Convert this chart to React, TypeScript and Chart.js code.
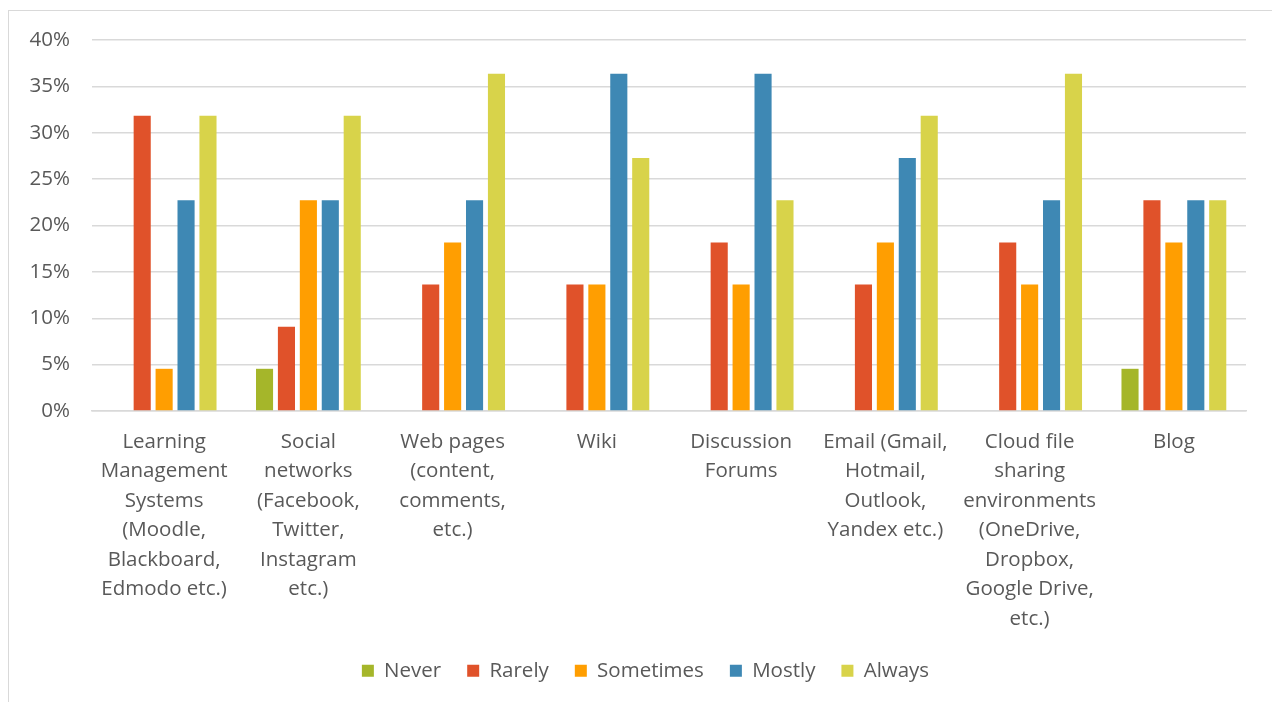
import React, { useEffect, useRef } from "react";
import { Chart, registerables } from "chart.js";

Chart.register(...registerables);

const categories: string[][] = [
  ["Learning", "Management", "Systems", "(Moodle,", "Blackboard,", "Edmodo etc.)"],
  ["Social", "networks", "(Facebook,", "Twitter,", "Instagram", "etc.)"],
  ["Web pages", "(content,", "comments,", "etc.)"],
  ["Wiki"],
  ["Discussion", "Forums"],
  ["Email (Gmail,", "Hotmail,", "Outlook,", "Yandex etc.)"],
  ["Cloud file", "sharing", "environments", "(OneDrive,", "Dropbox,", "Google Drive,", "etc.)"],
  ["Blog"],
];

const seriesNames = ["Never", "Rarely", "Sometimes", "Mostly", "Always"];
const never = [0, 4.55, 0, 0, 0, 0, 0, 4.55];
const rarely = [31.82, 9.09, 13.64, 13.64, 18.18, 13.64, 18.18, 22.73];
const sometimes = [4.55, 22.73, 18.18, 13.64, 13.64, 18.18, 13.64, 18.18];
const mostly = [22.73, 22.73, 22.73, 36.36, 36.36, 27.27, 22.73, 22.73];
const always = [31.82, 31.82, 36.36, 27.27, 22.73, 31.82, 36.36, 22.73];
const colors = ["#A5B62A", "#E0522A", "#FF9E01", "#3E88B4", "#D8D34A"];
const yTicks = [0, 5, 10, 15, 20, 25, 30, 35, 40];

const FONT = "'Open Sans', Lato, sans-serif";
const TEXT = "#595959";

const legendShift = {
  id: "legendShift",
  afterLayout(chart: any) {
    const lg = chart.legend;
    if (lg) {
      lg.left += 18;
      lg.right += 18;
    }
  },
};

export default function App() {
  const ref = useRef<HTMLCanvasElement | null>(null);
  useEffect(() => {
    if (!ref.current) return;
    const values = [never, rarely, sometimes, mostly, always];
    const chart = new Chart(ref.current, {
      type: "bar",
      data: {
        labels: categories,
        datasets: seriesNames.map((name, i) => ({
          label: name,
          data: values[i],
          backgroundColor: colors[i],
          borderWidth: 0,
          categoryPercentage: 0.76,
          barPercentage: 0.78,
        })),
      },
      plugins: [legendShift],
      options: {
        animation: false,
        responsive: false,
        maintainAspectRatio: false,
        layout: { padding: { top: 29, right: 26, bottom: 10, left: 0 } },
        plugins: {
          tooltip: { enabled: false },
          legend: {
            position: "bottom",
            labels: {
              font: { family: FONT, size: 20.5 },
              color: TEXT,
              boxWidth: 12,
              boxHeight: 12,
              padding: 26,
            },
          },
        },
        scales: {
          x: {
            grid: { display: false },
            border: { color: "#d9d9d9", width: 1.5 },
            ticks: {
              color: TEXT,
              font: { family: FONT, size: 20.5, lineHeight: 1.44 },
              maxRotation: 0,
              autoSkip: false,
              padding: 8,
            },
            afterFit: (scale: any) => {
              scale.height = 223.5;
            },
          },
          y: {
            min: 0,
            max: 40,
            afterBuildTicks: (scale: any) => {
              scale.ticks = yTicks.map((v) => ({ value: v }));
            },
            grid: {
              color: "#d9d9d9",
              lineWidth: 1.5,
              drawTicks: true,
              tickLength: 12,
              tickColor: "rgba(0,0,0,0)",
            },
            border: { display: false },
            ticks: {
              color: TEXT,
              font: { family: FONT, size: 20.5 },
              padding: 10,
              callback: (v: any) => v + "%",
            },
            afterFit: (scale: any) => {
              scale.width = 83;
            },
          },
        },
      },
    } as any);
    return () => chart.destroy();
  }, []);
  return (
    <div
      style={{
        position: "absolute",
        left: 8,
        top: 10,
        width: 1300,
        height: 700,
        border: "1px solid #d9d9d9",
        boxSizing: "border-box",
        background: "#fff",
      }}
    >
      <canvas ref={ref} width={1263} height={690} style={{ display: "block" }} />
    </div>
  );
}
